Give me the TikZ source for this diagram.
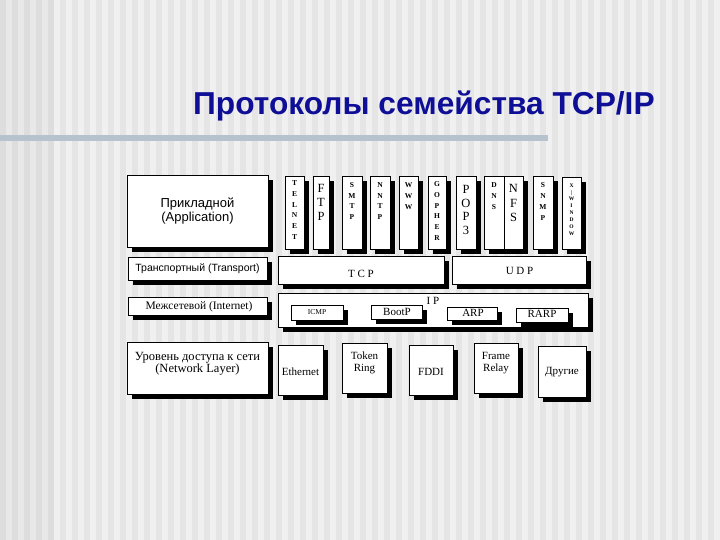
\documentclass[tikz,border=0pt]{standalone}
\usepackage{fontspec}
\setmainfont{Liberation Serif}
\newfontfamily\arialf{Liberation Sans}
\usetikzlibrary{shadows}
\definecolor{titleblue}{RGB}{14,14,150}
\definecolor{barcol}{RGB}{182,194,206}
\definecolor{bgA}{RGB}{240,240,240}
\definecolor{bgB}{RGB}{229,229,229}
\newcommand\mkbox[6][]{\node[box,#1,minimum width={(#5-#3)*1pt},minimum height={(#6-#4)*1pt}] (#2) at ({(#3+#5)/2},{(#4+#6)/2}) {};}
\begin{document}
\begin{tikzpicture}[x=1pt,y=-1pt,
  box/.style={draw=black, fill=white, line width=1pt, inner sep=0pt,
    drop shadow={shadow xshift=4.5pt, shadow yshift=-4.5pt, fill=black, opacity=1}},
  lab/.style={inner sep=0pt, align=center, text=black},
  vl/.style={inner sep=0pt, align=center, text=black},
  vs/.style={vl, font=\bfseries\fontsize{7.5}{10.7}\selectfont},
  vb/.style={vl, font=\fontsize{12.5}{14}\selectfont},
]
\useasboundingbox (0,0) rectangle (720,540);
% background
\fill[bgA] (0,0) rectangle (720,540);
\foreach \i in {0,...,59} \fill[bgB] ({\i*12},0) rectangle ({\i*12+6},540);
\fill[black, opacity=0.03] (0,0) rectangle (54,540);
% title and bar
\fill[barcol] (0,135) rectangle (548,141);
\node[anchor=base west, inner sep=0pt, text=titleblue, font=\arialf\bfseries\fontsize{31.7}{34}\selectfont] (title) at (193,115) {Протоколы семейства TCP/IP};
% application layer
\mkbox{app}{127}{176}{268}{247}
\node[lab, font=\arialf\fontsize{13}{12}\selectfont] (appT) at (197.5,211) {Прикладной\\(Application)};
\mkbox{telnet}{285}{177}{304}{249}
\mkbox{ftp}{313}{177}{329}{249}
\mkbox{smtp}{342}{177}{362}{249}
\mkbox{nntp}{370}{177}{390}{249}
\mkbox{www}{399}{177}{418}{249}
\mkbox{gopher}{428}{177}{446}{249}
\mkbox{pop}{456}{177}{476}{249}
\mkbox{dns}{484}{177}{504}{249}
\mkbox{nfs}{504}{177}{523}{249}
\mkbox{snmp}{533}{177}{553}{249}
\mkbox{xwin}{562}{178}{581}{249}
\node[vs] (telnetT) at (294.5,210) {T\\E\\L\\N\\E\\T};
\node[vb] (ftpT) at (321,202.5) {F\\T\\P};
\node[vs] (smtpT) at (352,201) {S\\M\\T\\P};
\node[vs] (nntpT) at (380,201) {N\\N\\T\\P};
\node[vl, font=\bfseries\fontsize{7.5}{11}\selectfont] (wwwT) at (408.5,196.5) {W\\W\\W};
\node[vs] (gopherT) at (437,211) {G\\O\\P\\H\\E\\R};
\node[vl, font=\fontsize{12.5}{13.7}\selectfont] (popT) at (466,210) {P\\O\\P\\3};
\node[vs] (dnsT) at (494,196) {D\\N\\S};
\node[vl, font=\fontsize{12.5}{14.5}\selectfont] (nfsT) at (513.5,203) {N\\F\\S};
\node[vl, font=\bfseries\fontsize{7.5}{11}\selectfont] (snmpT) at (543,202) {S\\N\\M\\P};
\node[vl, font=\bfseries\fontsize{5.5}{6.9}\selectfont] (xwinT) at (571.5,209.5) {X\\|\\W\\I\\N\\D\\O\\W};
% transport layer
\mkbox{trans}{128}{257}{267}{280}
\node[lab, font=\arialf\fontsize{10.5}{12}\selectfont] (transT) at (197.5,268.5) {Транспортный (Transport)};
\mkbox{tcp}{278}{256}{444}{284}
\node[lab, font=\fontsize{11}{12}\selectfont] (tcpT) at (361,274) {T C P};
\mkbox{udp}{452}{256}{586}{284}
\node[lab, font=\fontsize{11}{12}\selectfont] (udpT) at (519.5,271) {U D P};
% internet layer
\mkbox{inet}{128}{297}{267}{315}
\node[lab, font=\fontsize{11.5}{12}\selectfont] (inetT) at (199,306.5) {Межсетевой (Internet)};
\mkbox{ip}{278}{293}{588}{327}
\node[lab, font=\fontsize{11}{12}\selectfont] (ipT) at (433,301) {I P};
\mkbox{icmp}{291}{305}{343}{320}
\node[lab, font=\fontsize{7.5}{9}\selectfont] (icmpT) at (317,312.5) {ICMP};
\mkbox{bootp}{371}{305}{422}{319}
\node[lab, font=\fontsize{11}{12}\selectfont] (bootpT) at (397,312) {BootP};
\mkbox{arp}{447}{307}{497}{320}
\node[lab, font=\fontsize{11}{12}\selectfont] (arpT) at (473,312.5) {ARP};
\mkbox{rarp}{516}{308}{568}{322}
\node[lab, font=\fontsize{11}{12}\selectfont] (rarpT) at (542,314) {RARP};
% network access layer
\mkbox{net}{127}{342}{268}{394}
\node[lab, font=\fontsize{12.5}{10}\selectfont] (netT) at (197.5,364) {Уровень доступа к сети\\(Network Layer)};
\mkbox{eth}{278}{345}{323}{395}
\node[lab, font=\fontsize{11}{12}\selectfont] (ethT) at (300.5,372) {Ethernet};
\mkbox{token}{342}{343}{387}{393}
\node[lab, font=\fontsize{11}{12}\selectfont] (tokenT) at (364.5,363) {Token\\Ring};
\mkbox{fddi}{409}{345}{453}{395}
\node[lab, font=\fontsize{11}{12}\selectfont] (fddiT) at (431,372) {FDDI};
\mkbox{frame}{474}{343}{518}{393}
\node[lab, font=\fontsize{11}{12}\selectfont] (frameT) at (496,363) {Frame\\Relay};
\mkbox{other}{538}{346}{586}{397}
\node[lab, font=\fontsize{11}{12}\selectfont] (otherT) at (562,372) {Другие};
\end{tikzpicture}
\end{document}
